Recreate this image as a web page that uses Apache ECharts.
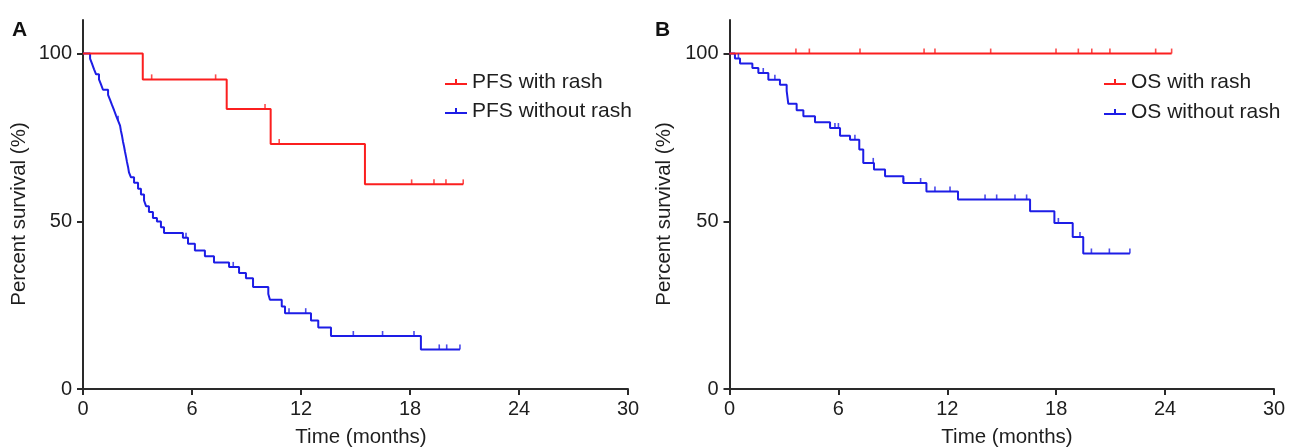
<!DOCTYPE html>
<html><head><meta charset="utf-8">
<script src="https://cdn.jsdelivr.net/npm/echarts@6/dist/echarts.min.js"></script>
<style>html,body{margin:0;padding:0;background:#fff}#c{width:1292px;height:448px}</style>
</head><body><div id="c"></div>
<script>
// ---- axis ticks ----
const xTicks = [0, 6, 12, 18, 24, 30];
const yTicks = [0, 50, 100];

// ---- Panel A: PFS ----
const pfsRashTimes  = [0, 3.29, 7.91, 10.33, 15.52, 20.93];
const pfsRashValues = [100, 92.3, 83.5, 73.0, 61.0, 61.0];
const pfsRashCensor = [3.78, 7.30, 10.02, 10.80, 18.09, 19.32, 19.98, 20.93];

const pfsNoRashTimes  = [0, 0.39, 0.50, 0.61, 0.72, 0.88, 0.99, 1.10, 1.38, 1.49, 1.60, 1.71, 1.82, 1.93, 2.04, 2.09, 2.15, 2.20, 2.26, 2.31, 2.37, 2.42, 2.48, 2.53, 2.64, 2.81, 3.03, 3.19, 3.36, 3.47, 3.63, 3.85, 4.07, 4.29, 4.46, 5.50, 5.78, 6.16, 6.71, 7.21, 8.04, 8.59, 8.97, 9.36, 10.20, 10.29, 10.94, 11.12, 12.55, 12.95, 13.65, 18.60, 20.75];
const pfsNoRashValues = [100, 98.5, 96.9, 95.3, 93.8, 92.3, 90.8, 89.2, 87.7, 86.2, 84.6, 83.1, 81.5, 80.0, 78.5, 76.9, 75.4, 73.8, 72.3, 70.8, 69.2, 67.7, 66.2, 64.6, 63.1, 61.5, 59.7, 58.0, 56.2, 54.5, 52.8, 51.0, 49.9, 48.2, 46.5, 45.1, 43.3, 41.3, 39.6, 37.7, 36.4, 34.6, 33.0, 30.4, 28.3, 26.6, 24.6, 22.6, 20.4, 18.3, 15.8, 11.8, 11.8];
const pfsNoRashCensor = [1.93, 5.67, 8.27, 11.34, 12.26, 14.88, 16.49, 18.22, 19.61, 20.02, 20.75];

// ---- Panel B: OS ----
const osRashTimes  = [0, 24.36];
const osRashValues = [100, 100];
const osRashCensor = [3.66, 4.40, 7.19, 10.72, 11.32, 14.39, 17.99, 19.22, 19.96, 20.96, 23.48, 24.36];

const osNoRashTimes  = [0, 0.30, 0.58, 1.26, 1.59, 2.14, 2.78, 3.15, 3.24, 3.70, 4.07, 4.71, 5.54, 6.09, 6.64, 7.15, 7.37, 7.96, 8.57, 9.58, 10.85, 12.59, 16.56, 17.90, 18.91, 19.49, 22.06];
const osNoRashValues = [100, 98.5, 97.0, 95.7, 94.2, 92.2, 90.7, 88.9, 85.0, 83.1, 81.3, 79.5, 77.8, 75.5, 74.3, 71.4, 67.4, 65.4, 63.4, 61.4, 58.9, 56.5, 53.0, 49.5, 45.3, 40.4, 40.4];
const osNoRashCensor = [0.49, 1.86, 2.50, 5.81, 6.00, 6.91, 7.92, 9.58, 10.53, 11.32, 12.15, 14.08, 14.72, 15.73, 16.37, 18.12, 19.31, 19.94, 20.93, 22.06];

const seriesNames = ['PFS with rash', 'PFS without rash', 'OS with rash', 'OS without rash'];
const panelLabels = ['A', 'B'];
const xTitle = 'Time (months)';
const yTitle = 'Percent survival (%)';

const RED = '#fb1f1f', BLUE = '#1d1de6';
const FONT = '"Liberation Sans", Arial, sans-serif';
const TXT = '#1e1e1e';

function pairs(ts, vs) { return ts.map((t, i) => [t, vs[i]]); }
function survAt(ts, vs, t) { let s = vs[0]; for (let i = 0; i < ts.length; i++) { if (ts[i] <= t + 1e-9) s = vs[i]; } return s; }
function censorPts(ts, vs, cs) { return cs.map(t => [t, survAt(ts, vs, t)]); }

const legendIcon = 'path://M0,4L22,4L22,6L0,6Z M10,0L12,0L12,4L10,4Z';

function xAxisFor(gi) {
  return {
    gridIndex: gi, type: 'value', min: 0, max: 30, interval: 6,
    axisLine: { show: true, lineStyle: { color: '#2a2a2a', width: 2 } },
    axisTick: { show: true, length: 6, lineStyle: { color: '#2a2a2a', width: 2 } },
    axisLabel: { margin: 10, fontFamily: FONT, fontSize: 20, color: TXT, customValues: xTicks },
    splitLine: { show: false }
  };
}
function yAxisFor(gi) {
  return {
    gridIndex: gi, type: 'value', min: 0, max: 110,
    axisLine: { show: true, lineStyle: { color: '#2a2a2a', width: 2 } },
    axisTick: { show: true, length: 6, lineStyle: { color: '#2a2a2a', width: 2 }, customValues: yTicks },
    axisLabel: { margin: 11, fontFamily: FONT, fontSize: 20, color: TXT, customValues: yTicks },
    splitLine: { show: false }
  };
}
function kmLine(name, gi, ts, vs, color) {
  return { name, type: 'line', xAxisIndex: gi, yAxisIndex: gi, step: 'end', data: pairs(ts, vs),
    showSymbol: false, symbol: 'none', color, lineStyle: { color, width: 2 }, z: 3, silent: true };
}
function censor(name, gi, ts, vs, cs, color) {
  return { name, type: 'scatter', xAxisIndex: gi, yAxisIndex: gi, data: censorPts(ts, vs, cs),
    symbol: 'rect', symbolSize: [1.6, 5], symbolOffset: [0, -2.5], itemStyle: { color }, z: 4, silent: true };
}
function titleText(text, x, y, rot) {
  return { type: 'text', x, y, rotation: rot, silent: true,
    style: { text, x: 0, y: 0, align: 'center', verticalAlign: 'middle', font: '20.5px ' + FONT, fill: TXT } };
}

const chart = echarts.init(document.getElementById('c'), null, { renderer: 'canvas' });
chart.setOption({
  animation: false,
  backgroundColor: '#fff',
  grid: [
    { left: 83, right: 664, top: 20, bottom: 59, containLabel: false },
    { left: 729.5, right: 18, top: 20, bottom: 59, containLabel: false }
  ],
  xAxis: [xAxisFor(0), xAxisFor(1)],
  yAxis: [yAxisFor(0), yAxisFor(1)],
  legend: [
    { data: [seriesNames[0], seriesNames[1]], orient: 'vertical', left: 440, top: 66, itemGap: 7,
      itemWidth: 22, itemHeight: 6, icon: legendIcon, selectedMode: false,
      textStyle: { fontFamily: FONT, fontSize: 21, color: TXT, lineHeight: 22 } },
    { data: [seriesNames[2], seriesNames[3]], orient: 'vertical', left: 1099, top: 66, itemGap: 8,
      itemWidth: 22, itemHeight: 6, icon: legendIcon, selectedMode: false,
      textStyle: { fontFamily: FONT, fontSize: 21, color: TXT, lineHeight: 22 } }
  ],
  graphic: [
    { type: 'text', left: 12, top: 20, style: { text: panelLabels[0], font: 'bold 21px ' + FONT, fill: '#111' } },
    { type: 'text', left: 655, top: 20, style: { text: panelLabels[1], font: 'bold 21px ' + FONT, fill: '#111' } },
    titleText(xTitle, 361, 437, 0),
    titleText(xTitle, 1007, 437, 0),
    titleText(yTitle, 19, 214, Math.PI / 2),
    titleText(yTitle, 664, 214, Math.PI / 2)
  ],
  series: [
    kmLine(seriesNames[1], 0, pfsNoRashTimes, pfsNoRashValues, BLUE),
    kmLine(seriesNames[0], 0, pfsRashTimes, pfsRashValues, RED),
    censor('pfsNoRashCensor', 0, pfsNoRashTimes, pfsNoRashValues, pfsNoRashCensor, BLUE),
    censor('pfsRashCensor', 0, pfsRashTimes, pfsRashValues, pfsRashCensor, RED),
    kmLine(seriesNames[3], 1, osNoRashTimes, osNoRashValues, BLUE),
    kmLine(seriesNames[2], 1, osRashTimes, osRashValues, RED),
    censor('osNoRashCensor', 1, osNoRashTimes, osNoRashValues, osNoRashCensor, BLUE),
    censor('osRashCensor', 1, osRashTimes, osRashValues, osRashCensor, RED)
  ]
});
</script>
</body></html>
